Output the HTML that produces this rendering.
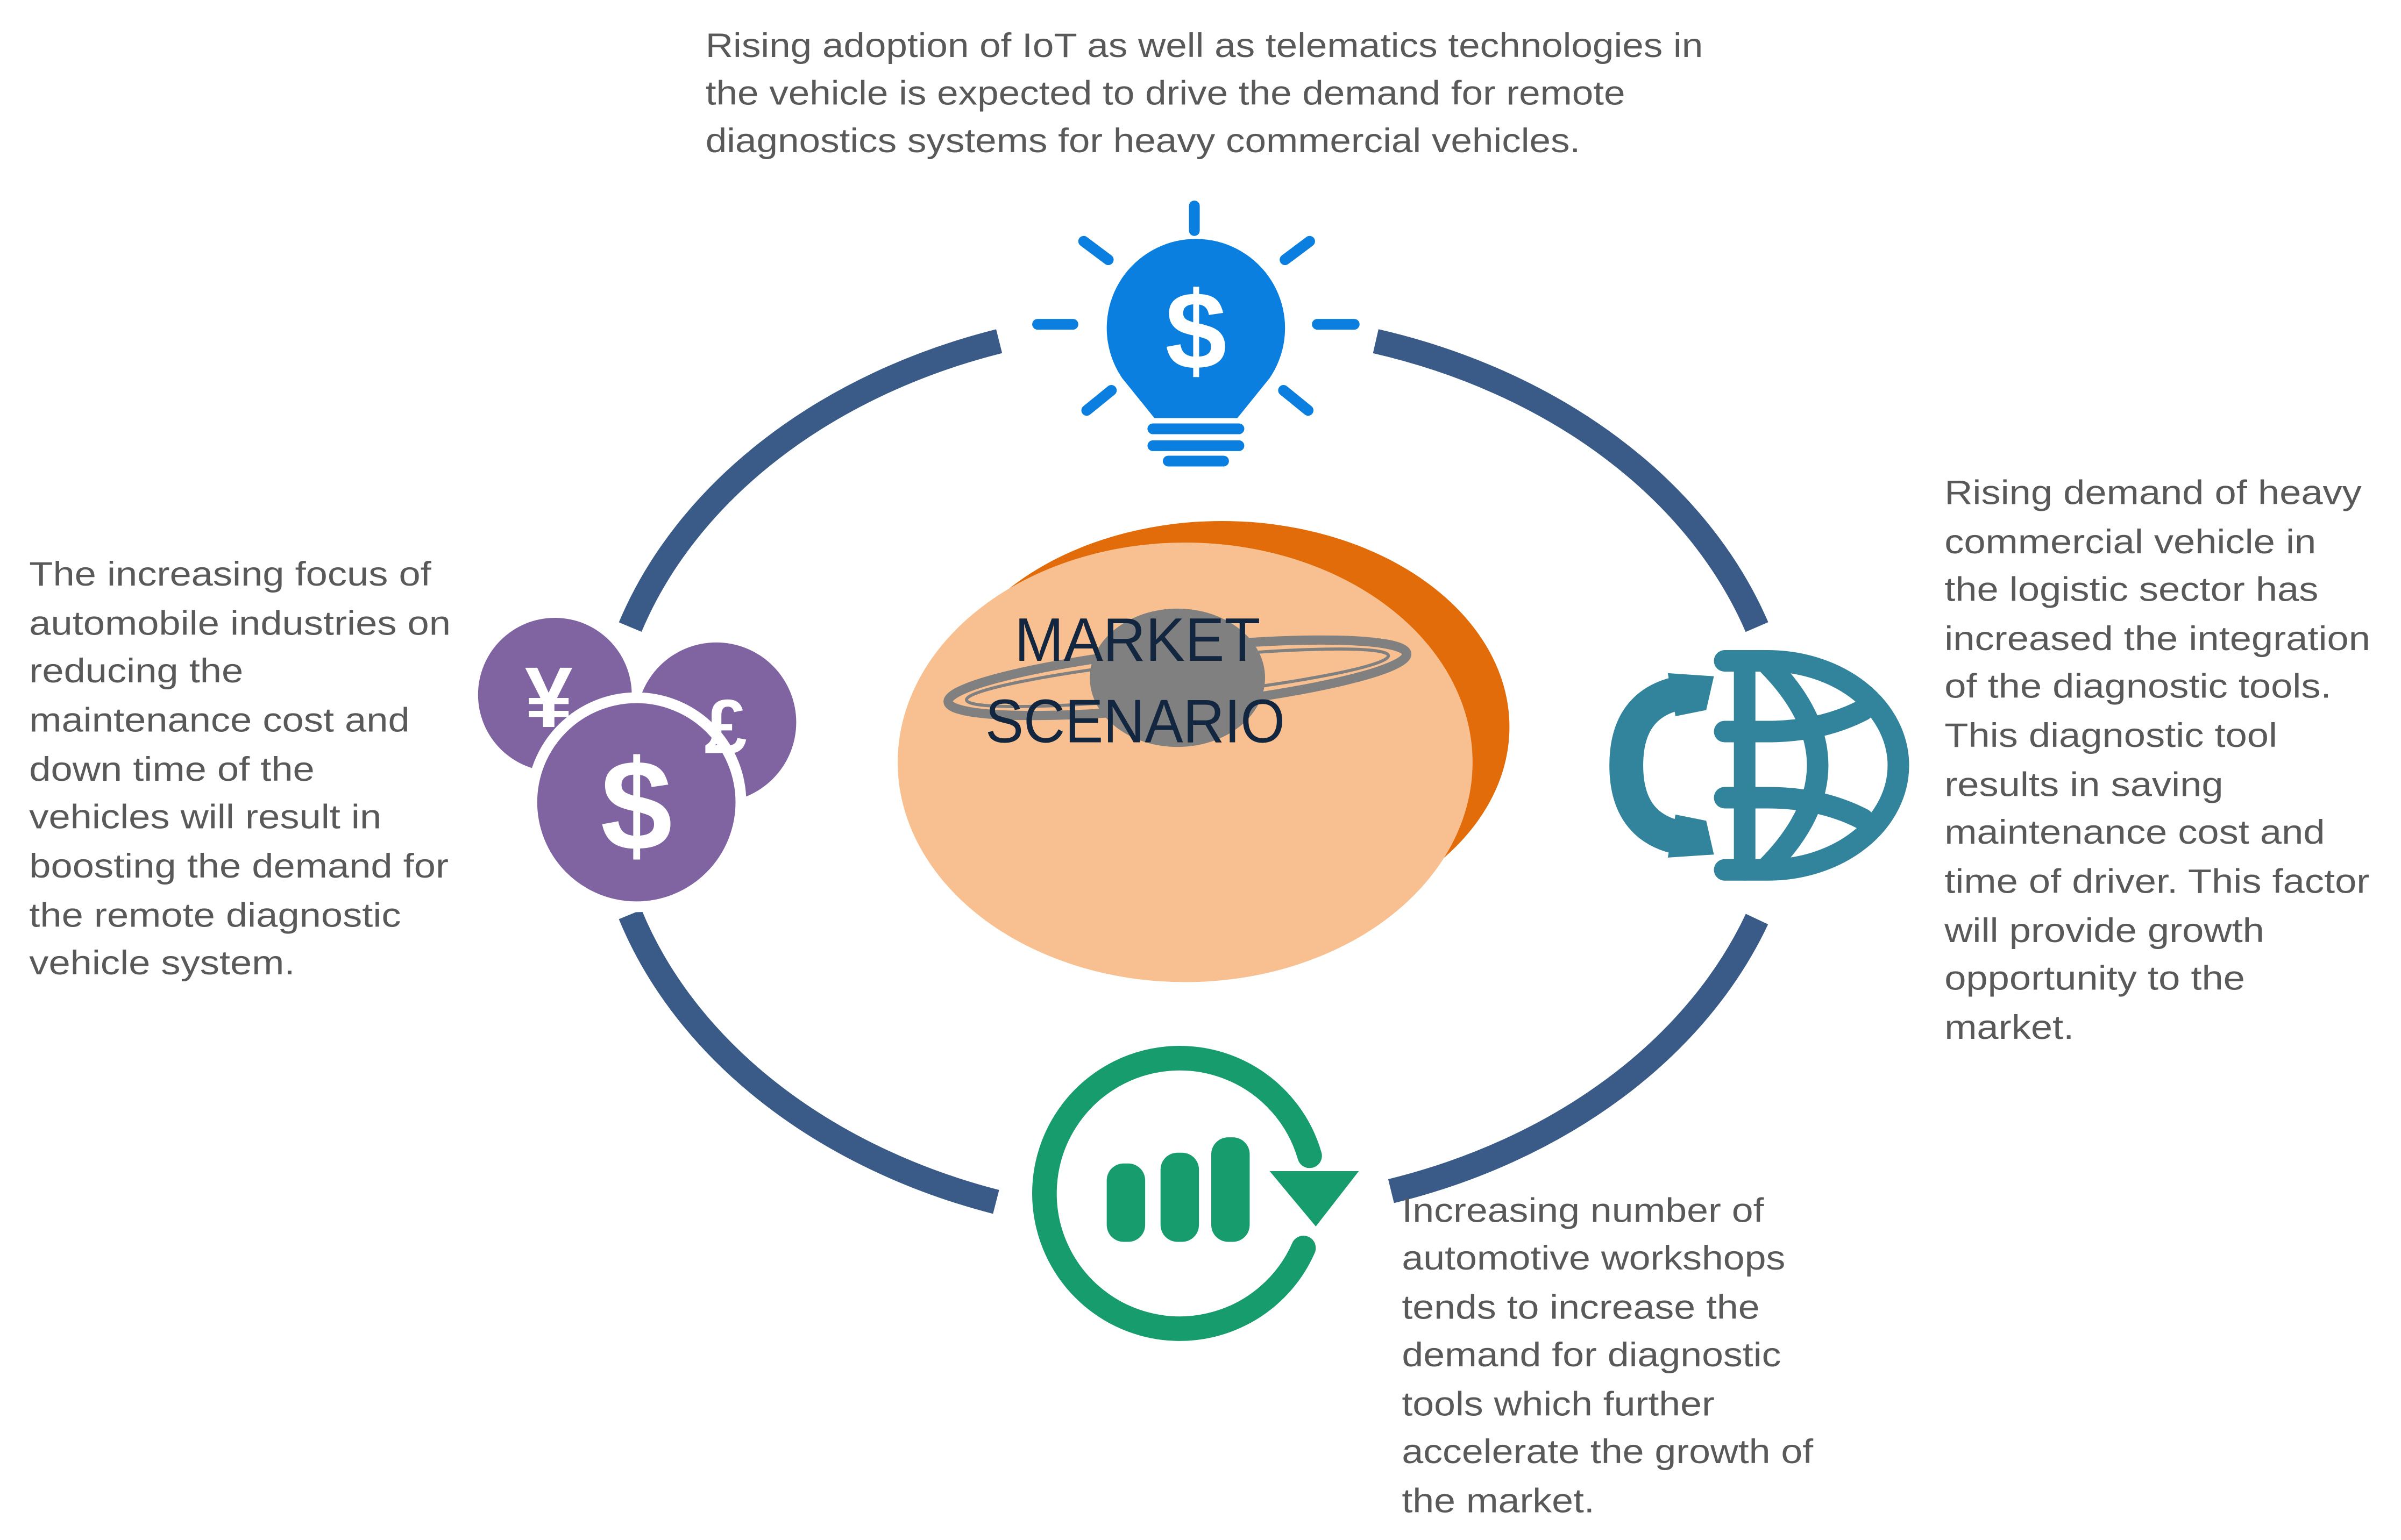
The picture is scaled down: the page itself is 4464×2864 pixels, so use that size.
<!DOCTYPE html>
<html><head><meta charset="utf-8"><style>
html,body{margin:0;padding:0;background:#fff;}
svg{display:block;}
.t{font-family:"Liberation Sans",sans-serif;font-size:22px;fill:#595959;}
</style></head><body>
<svg width="4464" height="2864" viewBox="0 0 1562 1002" preserveAspectRatio="none" xmlns="http://www.w3.org/2000/svg">
<rect width="1562" height="1002" fill="#fff"/>
<g fill="none" stroke="#3a5a88" stroke-width="16">
<path d="M650,222 A373,290 0 0 0 410,408"/>
<path d="M895,222 A373,290 0 0 1 1143,408"/>
<path d="M410,595 A373,290 0 0 0 648,782"/>
<path d="M1143,598 A373,290 0 0 1 905,775"/>
</g>
<ellipse cx="795" cy="473" rx="187" ry="134" fill="#e36c0a"/>
<ellipse cx="771" cy="496" rx="187" ry="143" fill="#f8c090"/>
<ellipse cx="766" cy="441" rx="57" ry="45" fill="#808080"/>
<g fill="none" stroke="#808080">
<ellipse cx="766" cy="441" rx="150" ry="19" stroke-width="6" transform="rotate(-6 766 441)"/>
<ellipse cx="766" cy="441" rx="138" ry="12" stroke-width="2" transform="rotate(-6 766 441)"/>
</g>
<text x="660" y="430" font-family="'Liberation Sans Narrow','Liberation Sans',sans-serif" font-size="40" fill="#12263f" textLength="160" lengthAdjust="spacingAndGlyphs">MARKET</text>
<text x="641" y="483" font-family="'Liberation Sans Narrow','Liberation Sans',sans-serif" font-size="40" fill="#12263f" textLength="195" lengthAdjust="spacingAndGlyphs">SCENARIO</text>
<g fill="#0a7fe0">
<path d="M720,213 A58,58 0 1 1 826,246 L805,272 L751,272 L730,246 A58,58 0 0 1 720,213Z"/>
<g stroke="#0a7fe0" stroke-width="7" stroke-linecap="round">
<line x1="750" y1="279" x2="806" y2="279"/><line x1="750" y1="290" x2="806" y2="290"/><line x1="760" y1="300" x2="796" y2="300"/>
<line x1="777" y1="134" x2="777" y2="150"/>
<line x1="705" y1="157" x2="721" y2="169"/><line x1="852" y1="157" x2="836" y2="169"/>
<line x1="675" y1="211" x2="698" y2="211"/><line x1="857" y1="211" x2="881" y2="211"/>
<line x1="707" y1="267" x2="723" y2="254"/><line x1="851" y1="267" x2="835" y2="254"/>
</g>
</g>
<text x="778" y="240" text-anchor="middle" font-family="'Liberation Sans',sans-serif" font-weight="bold" font-size="72" fill="#fff">$</text>
<circle cx="361" cy="452" r="50" fill="#8064a2"/>
<circle cx="466" cy="470" r="52" fill="#8064a2"/>
<circle cx="414" cy="522" r="68" fill="#8064a2" stroke="#fff" stroke-width="7"/>
<text x="357" y="473" text-anchor="middle" font-family="'Liberation Sans',sans-serif" font-weight="bold" font-size="56" fill="#fff">¥</text>
<text x="472" y="490" text-anchor="middle" font-family="'Liberation Sans',sans-serif" font-weight="bold" font-size="50" fill="#fff">£</text>
<text x="414" y="553" text-anchor="middle" font-family="'Liberation Sans',sans-serif" font-weight="bold" font-size="84" fill="#fff">$</text>
<g fill="none" stroke="#31849b" stroke-width="14" stroke-linecap="round">
<path d="M1122,430 L1150,430 A85,68 0 0 1 1150,566 L1122,566"/>
<line x1="1135" y1="430" x2="1135" y2="566"/>
<path d="M1150,432 Q1215,498 1150,564"/>
<path d="M1122,476 L1150,476 Q1185,476 1212,462"/>
<path d="M1122,519 L1150,519 Q1185,519 1212,533"/>
<path d="M1098,450 Q1058,455 1058,498 Q1058,541 1098,546" stroke-width="22" stroke-linecap="butt"/>
</g>
<path d="M1085,438 L1115,440 L1110,462 L1090,466Z M1085,558 L1115,556 L1110,534 L1090,530Z" fill="#31849b"/>
<path d="M852,752 A88,88 0 1 0 848,812" fill="none" stroke="#179c6e" stroke-width="16" stroke-linecap="round"/>
<path d="M826,762 L884,762 L856,798Z" fill="#179c6e"/>
<g fill="#179c6e">
<rect x="720" y="757" width="25" height="51" rx="11"/>
<rect x="755" y="750" width="25" height="58" rx="11"/>
<rect x="788" y="740" width="25" height="68" rx="11"/>
</g>
<g transform="translate(459,0) scale(1.13,1) translate(-459,0)">
<text class="t" x="459" y="37">Rising adoption of IoT as well as telematics technologies in</text>
<text class="t" x="459" y="68">the vehicle is  expected to drive the demand for  remote</text>
<text class="t" x="459" y="99">diagnostics systems for heavy commercial vehicles.</text>
</g>
<g transform="translate(19,0) scale(1.15,1) translate(-21,0)">
<text class="t" x="21" y="381">The increasing focus of</text>
<text class="t" x="21" y="413">automobile industries on</text>
<text class="t" x="21" y="444">reducing the</text>
<text class="t" x="21" y="476">maintenance cost and</text>
<text class="t" x="21" y="508">down time of the</text>
<text class="t" x="21" y="539">vehicles will result in</text>
<text class="t" x="21" y="571">boosting the demand for</text>
<text class="t" x="21" y="603">the remote diagnostic</text>
<text class="t" x="21" y="634">vehicle system.</text>
</g>
<g transform="translate(1265,0) scale(1.15,1) translate(-1268,0)">
<text class="t" x="1268" y="328">Rising demand of heavy</text>
<text class="t" x="1268" y="360">commercial vehicle in</text>
<text class="t" x="1268" y="391">the logistic sector has</text>
<text class="t" x="1268" y="423">increased the integration</text>
<text class="t" x="1268" y="454">of the diagnostic tools.</text>
<text class="t" x="1268" y="486">This diagnostic tool</text>
<text class="t" x="1268" y="518">results in saving</text>
<text class="t" x="1268" y="549">maintenance cost and</text>
<text class="t" x="1268" y="581">time of driver. This factor</text>
<text class="t" x="1268" y="613">will provide growth</text>
<text class="t" x="1268" y="644">opportunity to the</text>
<text class="t" x="1268" y="676">market.</text>
</g>
<g transform="translate(912,0) scale(1.14,1) translate(-915,0)">
<text class="t" x="915" y="795">Increasing number of</text>
<text class="t" x="915" y="826">automotive workshops</text>
<text class="t" x="915" y="858">tends to increase the</text>
<text class="t" x="915" y="889">demand for diagnostic</text>
<text class="t" x="915" y="921">tools which further</text>
<text class="t" x="915" y="952">accelerate the growth of</text>
<text class="t" x="915" y="984">the market.</text>
</g>
</svg>
</body></html>
